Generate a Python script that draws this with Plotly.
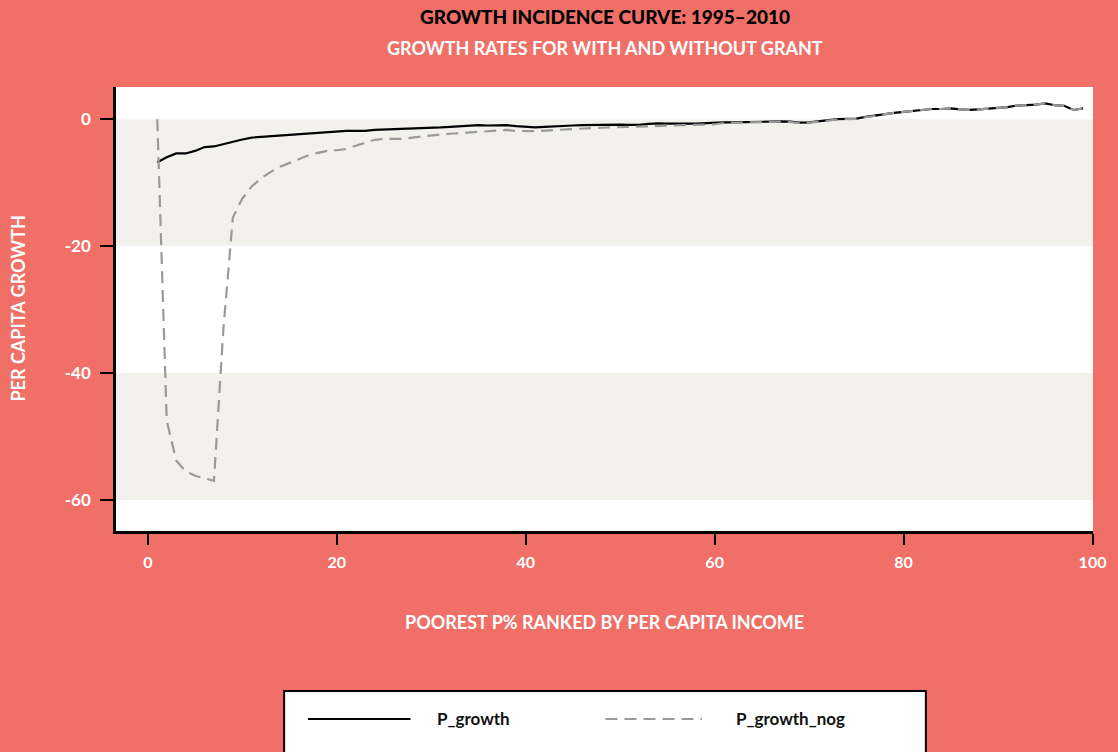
import plotly.graph_objects as go

# poorest p% (percentile of per capita income)
percentile = list(range(1, 100))

# growth rate with the grant
p_growth = [
    -6.8, -6.0, -5.4, -5.4, -5.0, -4.4, -4.3, -3.9, -3.5, -3.2,
    -2.9, -2.8, -2.65, -2.6, -2.5, -2.4, -2.3, -2.2, -2.0, -1.9,
    -1.85, -1.85, -1.85, -1.7, -1.65, -1.6, -1.5, -1.55, -1.4, -1.35,
    -1.3, -1.2, -1.1, -0.95, -0.95, -1.0, -0.95, -0.95, -1.1, -1.25,
    -1.3, -1.2, -1.1, -1.0, -1.0, -0.95, -0.9, -0.85, -0.8, -0.85,
    -0.9, -0.9, -0.75, -0.65, -0.7, -0.75, -0.7, -0.7, -0.6, -0.55,
    -0.5, -0.5, -0.45, -0.4, -0.4, -0.4, -0.35, -0.4, -0.55, -0.5,
    -0.3, -0.1, 0.0, 0.05, 0.1, 0.35, 0.6, 0.8, 1.0, 1.15,
    1.3, 1.5, 1.6, 1.6, 1.7, 1.55, 1.45, 1.55, 1.65, 1.7,
    1.9, 2.15, 2.2, 2.3, 2.5, 2.2, 2.1, 1.45, 1.7,
]

# growth rate without the grant
p_growth_nog = [
    0.0, -47.5, -53.8, -55.5, -56.2, -56.6, -57.0, -33.0, -15.5, -12.5,
    -10.6, -9.3, -8.3, -7.5, -6.9, -6.2, -5.7, -5.3, -5.0, -4.9,
    -4.7, -4.2, -3.7, -3.25, -3.1, -3.05, -3.1, -2.9, -2.7, -2.5,
    -2.4, -2.3, -2.2, -2.1, -2.0, -1.9, -1.8, -1.7, -1.85, -1.9,
    -1.9, -1.8, -1.7, -1.6, -1.5, -1.45, -1.4, -1.35, -1.3, -1.3,
    -1.25, -1.2, -1.2, -1.1, -1.05, -1.0, -0.95, -0.9, -0.85, -0.8,
    -0.6, -0.55, -0.5, -0.45, -0.45, -0.45, -0.4, -0.45, -0.6, -0.55,
    -0.35, -0.15, -0.05, 0.0, 0.05, 0.3, 0.55, 0.8, 1.0, 1.15,
    1.3, 1.5, 1.6, 1.6, 1.7, 1.55, 1.45, 1.55, 1.65, 1.7,
    1.9, 2.15, 2.2, 2.3, 2.5, 2.2, 2.1, 1.45, 1.7,
]

x_ticks = [0, 20, 40, 60, 80, 100]
y_ticks = [0, -20, -40, -60]
y_tick_text = ["0", "-20", "-40", "-60"]
band_edges = [(-20, 0), (-60, -40)]

BG = "#F07068"
BAND = "#F2F1EC"
DASH_GREY = "#9A9A9A"
FONT = "Lato"

fig = go.Figure()
fig.add_trace(go.Scatter(
    x=percentile, y=p_growth, mode="lines", name="P_growth",
    line=dict(color="black", width=2.2),
))
fig.add_trace(go.Scatter(
    x=percentile, y=p_growth_nog, mode="lines", name="P_growth_nog",
    line=dict(color=DASH_GREY, width=2.2, dash="12px,7px"),
))

for lo, hi in band_edges:
    fig.add_hrect(y0=lo, y1=hi, fillcolor=BAND, line_width=0, layer="below")

fig.update_layout(
    width=1118,
    height=752,
    paper_bgcolor=BG,
    plot_bgcolor="white",
    showlegend=False,
    margin=dict(l=116, r=20, t=87, b=221),
    font=dict(family=FONT, color="white", size=15),
)
fig.update_xaxes(
    range=[-3.37, 100.05], tickvals=x_ticks, showgrid=False, zeroline=False,
    showline=True, linecolor="black", linewidth=2.5,
    ticks="outside", ticklen=11, tickwidth=2, tickcolor="black",
    ticklabelstandoff=4,
    tickfont=dict(family=FONT, size=16, color="white", weight="bold"),
)
fig.update_yaxes(
    range=[-64.9, 5.07], tickvals=y_ticks, ticktext=y_tick_text,
    showgrid=False, zeroline=False,
    showline=True, linecolor="black", linewidth=2.5,
    ticks="outside", ticklen=13, tickwidth=2, tickcolor="black",
    ticklabelstandoff=6,
    tickfont=dict(family=FONT, size=17, color="white", weight="bold"),
)

text_bits = [
    dict(text="GROWTH INCIDENCE CURVE: 1995–2010", x=0.5, y=1.158,
         font=dict(family=FONT, size=19, color="black", weight=900)),
    dict(text="GROWTH RATES FOR WITH AND WITHOUT GRANT", x=0.5, y=1.088,
         font=dict(family=FONT, size=18, color="white", weight="bold")),
    dict(text="POOREST P% RANKED BY PER CAPITA INCOME", x=0.5, y=-0.205,
         font=dict(family=FONT, size=18, color="white", weight="bold")),
    dict(text="PER CAPITA GROWTH", x=-0.1008, y=0.5, textangle=-90,
         font=dict(family=FONT, size=18, color="white", weight="bold")),
]
for t in text_bits:
    fig.add_annotation(xref="paper", yref="paper", showarrow=False,
                       xanchor="center", yanchor="middle", **t)

# legend box, drawn by hand so the key lines are as long as in the original
fig.add_shape(type="rect", xref="paper", yref="paper",
              x0=0.1721, x1=0.8289, y0=-0.58, y1=-0.3604,
              fillcolor="white", line=dict(color="black", width=2))
fig.add_shape(type="line", xref="paper", yref="paper",
              x0=0.1965, x1=0.3014, y0=-0.4234, y1=-0.4234,
              line=dict(color="black", width=2.2))
fig.add_shape(type="line", xref="paper", yref="paper",
              x0=0.501, x1=0.5998, y0=-0.4234, y1=-0.4234,
              line=dict(color=DASH_GREY, width=2.2, dash="12px,7px"))
for name, xpos in [("P_growth", 0.3269), ("P_growth_nog", 0.6324)]:
    fig.add_annotation(xref="paper", yref="paper", showarrow=False,
                       x=xpos, y=-0.4234, xanchor="left", yanchor="middle",
                       text=name,
                       font=dict(family=FONT, size=17, color="#111111", weight="bold"))

fig.write_html("out.html", config={"displayModeBar": False},
               post_script="document.body.style.margin='0';")
